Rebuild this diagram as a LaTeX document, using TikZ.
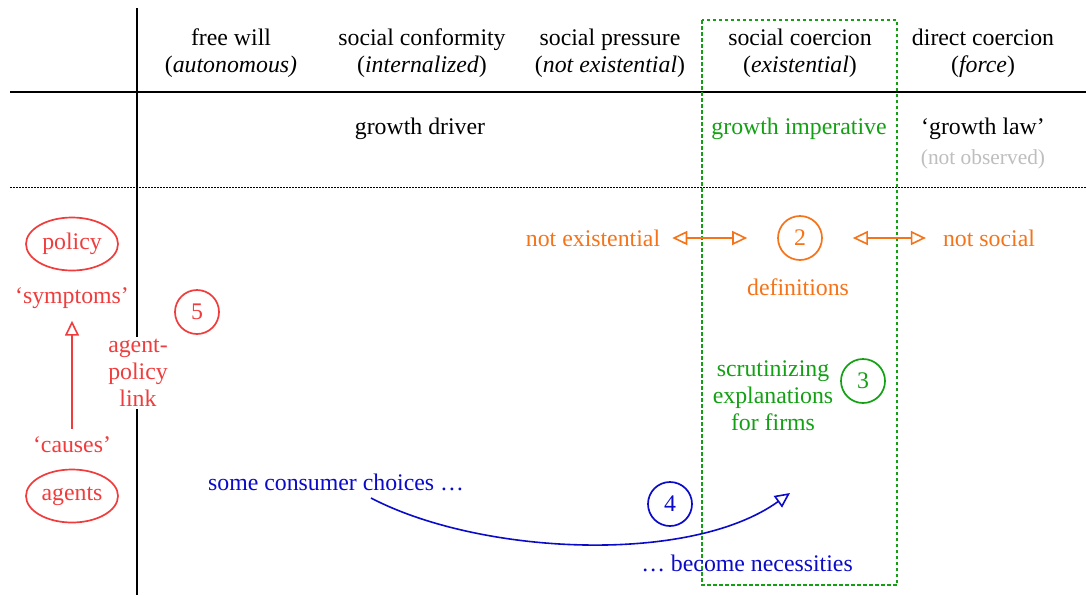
\documentclass[tikz,border=0pt]{standalone}
\usepackage{fontspec}
\setmainfont{Liberation Serif}
\usetikzlibrary{arrows.meta,shapes.geometric}
\definecolor{cred}{RGB}{240,60,60}
\definecolor{corange}{RGB}{245,115,25}
\definecolor{cgreen}{RGB}{20,160,20}
\definecolor{cblue}{RGB}{10,10,200}
\definecolor{cgray}{RGB}{190,190,190}
\tikzset{
  txt/.style={inner sep=0pt, align=center, font=\fontsize{23.8}{27}\selectfont},
  numc/.style={circle, draw, line width=1.7pt, minimum size=44pt, inner sep=0pt, font=\fontsize{23.8}{27}\selectfont},
  ell/.style={ellipse, draw, line width=1.7pt, minimum width=92pt, minimum height=53pt, inner sep=0pt, font=\fontsize{23.8}{27}\selectfont},
  openarrow/.style={line width=1.6pt, -{Triangle[open, length=15pt, width=14pt]}},
  dblarrow/.style={line width=1.6pt, {Triangle[open, length=15pt, width=14pt]}-{Triangle[open, length=15pt, width=14pt]}},
  rule/.style={line width=1.8pt},
}
\begin{document}
\begin{tikzpicture}[x=1pt,y=-1pt]
\useasboundingbox[fill=white] (0,0) rectangle (1086,595);
% table lines
\coordinate (vtop) at (137,8);
\coordinate (vbot) at (137,595);
\coordinate (hl) at (10,92);
\coordinate (hr) at (1086,92);
\coordinate (dl) at (10,187);
\coordinate (dr) at (1086,187);
\draw[rule] (vtop) -- (vbot);
\draw[rule] (hl) -- (hr);
\draw[line width=1pt, dash pattern=on 1.5pt off 1.5pt] (dl) -- (dr);
% green box
\coordinate (gb1) at (702,20);
\coordinate (gb2) at (897,585);
\draw[cgreen, line width=1.8pt, dash pattern=on 3.5pt off 2.5pt] (gb1) rectangle (gb2);
% headers
\node[txt] (h1) at (231,53) {free will\\(\textit{autonomous)}};
\node[txt] (h2) at (422,53) {social conformity\\(\textit{internalized})};
\node[txt] (h3) at (610,53) {social pressure\\(\textit{not existential})};
\node[txt] (h4) at (800,53) {social coercion\\(\textit{existential})};
\node[txt] (h5) at (983,53) {direct coercion\\(\textit{force})};
% row 1
\node[txt] (gd) at (420,129) {growth driver};
\node[txt, text=cgreen] (gi) at (799,129) {growth imperative};
\node[txt] (gl) at (983,129) {‘growth law’};
\node[txt, text=cgray, font=\fontsize{21.4}{24}\selectfont] (no) at (983,159) {(not observed)};
% left column
\node[ell, cred] (policy) at (72,244) {policy};
\node[txt, text=cred] (sym) at (72,298) {‘symptoms’};
\node[txt, text=cred] (cau) at (72,445) {‘causes’};
\node[ell, cred] (agents) at (72,496) {agents};
\draw[openarrow, cred, shorten <=8pt, shorten >=12pt] (cau) -- (sym);
\node[numc, cred] (c5) at (197,312) {5};
\node[txt, text=cred, fill=white, inner ysep=2pt] (apl) at (138,373) {agent-\\policy\\link};
% definitions
\node[txt, text=corange] (ne) at (593,238) {not existential};
\node[numc, corange] (c2) at (800,238) {2};
\node[txt, text=corange] (def) at (798,287) {definitions};
\node[txt, text=corange] (ns) at (989,238) {not social};
\draw[dblarrow, corange, shorten <=12pt, shorten >=30pt] (ne) -- (c2);
\draw[dblarrow, corange, shorten <=30pt, shorten >=17pt] (c2) -- (ns);
% firms
\node[txt, text=cgreen] (sef) at (773,396) {scrutinizing\\explanations\\for firms};
\node[numc, cgreen] (c3) at (863,381) {3};
% consumer
\node[txt, text=cblue] (scc) at (336,482) {some consumer choices \dots};
\node[txt, text=cblue] (bn) at (747,563) {\dots{} become necessities};
\node[numc, cblue] (c4) at (670,504) {4};
\coordinate (cs) at (371,498);
\coordinate (ce) at (790,493);
\draw[openarrow, cblue] (cs) .. controls (480,555) and (690,565) .. (ce);
\end{tikzpicture}
\end{document}
